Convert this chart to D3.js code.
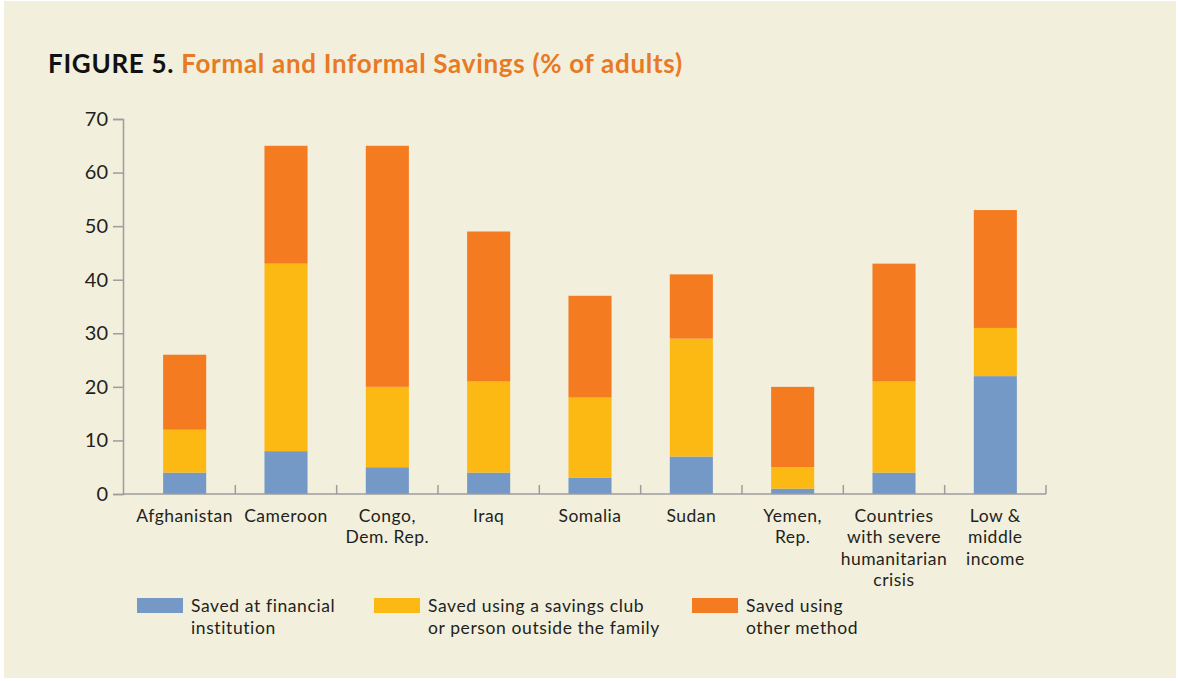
<!DOCTYPE html>
<html>
<head>
<meta charset="utf-8">
<script src="https://cdn.jsdelivr.net/npm/d3@7"></script>
<style>
  body { margin: 0; background: #ffffff; }
  svg { display: block; font-family: Lato, "Open Sans", sans-serif; }
</style>
</head>
<body>
<div id="chart"></div>
<script>
// chart data
const countries = [
  ["Afghanistan"], ["Cameroon"], ["Congo,", "Dem. Rep."], ["Iraq"], ["Somalia"],
  ["Sudan"], ["Yemen,", "Rep."], ["Countries", "with severe", "humanitarian", "crisis"],
  ["Low &", "middle", "income"]
];
const savedFinancial = [4, 8, 5, 4, 3, 7, 1, 4, 22];
const savedClub = [8, 35, 15, 17, 15, 22, 4, 17, 9];
const savedOther = [14, 22, 45, 28, 19, 12, 15, 22, 22];
const seriesNames = [
  ["Saved at financial", "institution"],
  ["Saved using a savings club", "or person outside the family"],
  ["Saved using", "other method"]
];
const yTicks = [0, 10, 20, 30, 40, 50, 60, 70];

const svgWidth = 1178, svgHeight = 681;
const colors = ["#7499c7", "#fdb913", "#f47b20"];
const axisColor = "#9d9d9d";
const textColor = "#231f20";

const svg = d3.select("#chart").append("svg")
    .attr("width", svgWidth)
    .attr("height", svgHeight);

// panel background
svg.append("rect")
    .attr("x", 4).attr("y", 1)
    .attr("width", 1172).attr("height", 677)
    .attr("fill", "#f2efdd");

// title
const title = svg.append("text")
    .attr("x", 48).attr("y", 73)
    .attr("font-size", "26px")
    .attr("letter-spacing", "0.7px")
    .attr("font-weight", "bold");
title.append("tspan").text("FIGURE 5. ").attr("fill", "#111");
title.append("tspan").text("Formal and Informal Savings (% of adults)").attr("fill", "#e87a24");

const keys = countries.map(d => d.join(" "));
const rows = keys.map((k, i) => ({ key: k, lines: countries[i], fin: savedFinancial[i], club: savedClub[i], other: savedOther[i] }));

const x = d3.scaleBand()
    .domain(keys)
    .range([134, 1046])
    .paddingInner(0.575)
    .paddingOuter(0.2875);

const y = d3.scaleLinear()
    .domain([0, 70])
    .range([494, 119]);

const stack = d3.stack().keys(["fin", "club", "other"]);
const stacked = stack(rows);

// bars
svg.append("g").selectAll("g")
    .data(stacked)
    .enter().append("g")
    .attr("fill", (d, i) => colors[i])
    .selectAll("rect")
    .data(d => d)
    .enter().append("rect")
    .attr("x", d => x(d.data.key))
    .attr("y", d => y(d[1]))
    .attr("width", x.bandwidth())
    .attr("height", d => y(d[0]) - y(d[1]));

// y axis
const yAxis = svg.append("g")
    .attr("transform", "translate(123,0)")
    .call(d3.axisLeft(y).tickValues(yTicks).tickSize(10).tickPadding(5));
yAxis.selectAll("line, path").attr("stroke", axisColor).attr("stroke-width", 1.5);
yAxis.selectAll("text").attr("font-size", "20px").attr("fill", textColor)
    .attr("font-family", "Lato, sans-serif");

// x axis line with ticks between the bars
const xg = svg.append("g");
xg.append("line")
    .attr("x1", 123).attr("x2", 1046)
    .attr("y1", y(0)).attr("y2", y(0))
    .attr("stroke", axisColor).attr("stroke-width", 1.5);
const step = x.step();
xg.selectAll(".xtick")
    .data(keys)
    .enter().append("line")
    .attr("class", "xtick")
    .attr("x1", d => x(d) + x.bandwidth() / 2 + step / 2)
    .attr("x2", d => x(d) + x.bandwidth() / 2 + step / 2)
    .attr("y1", y(0)).attr("y2", y(0) - 9)
    .attr("stroke", axisColor).attr("stroke-width", 1.5);

// category labels
const labels = svg.append("g").selectAll("text")
    .data(rows)
    .enter().append("text")
    .attr("x", d => x(d.key) + x.bandwidth() / 2)
    .attr("y", 522)
    .attr("text-anchor", "middle")
    .attr("font-size", "17.5px")
    .attr("letter-spacing", "0.5px")
    .attr("fill", textColor);
labels.selectAll("tspan")
    .data(d => d.lines.map(l => ({ l, cx: x(d.key) + x.bandwidth() / 2 })))
    .enter().append("tspan")
    .attr("x", d => d.cx)
    .attr("dy", (d, i) => i === 0 ? 0 : 21.3)
    .text(d => d.l);

// legend
const legendX = [137, 374, 692];
const legend = svg.append("g").selectAll("g")
    .data(seriesNames)
    .enter().append("g")
    .attr("transform", (d, i) => `translate(${legendX[i]},598)`);
legend.append("rect")
    .attr("width", 46).attr("height", 15)
    .attr("fill", (d, i) => colors[i]);
legend.append("text")
    .attr("x", 54).attr("y", 14)
    .attr("font-size", "17.5px")
    .attr("letter-spacing", "0.6px")
    .attr("fill", textColor)
    .selectAll("tspan")
    .data(d => d)
    .enter().append("tspan")
    .attr("x", 54)
    .attr("dy", (d, i) => i === 0 ? 0 : 21.5)
    .text(d => d);
</script>
</body>
</html>
